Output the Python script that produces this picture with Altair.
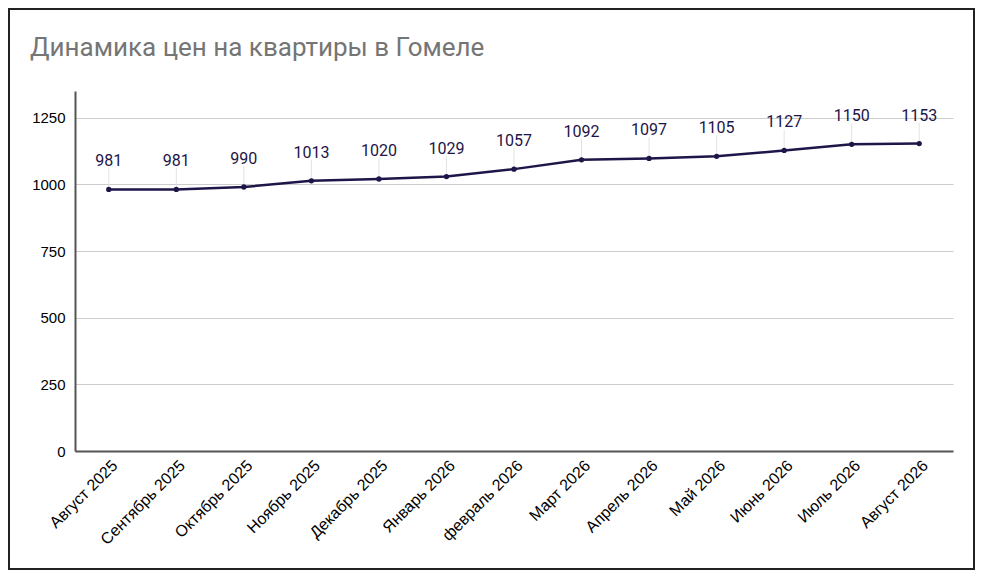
import altair as alt
import pandas as pd

months = [
    "Август 2025", "Сентябрь 2025", "Октябрь 2025", "Ноябрь 2025",
    "Декабрь 2025", "Январь 2026", "февраль 2026", "Март 2026",
    "Апрель 2026", "Май 2026", "Июнь 2026", "Июль 2026", "Август 2026",
]
prices = [981, 981, 990, 1013, 1020, 1029, 1057, 1092, 1097, 1105, 1127, 1150, 1153]
y_ticks = [0, 250, 500, 750, 1000, 1250]
title_text = ["Динамика цен на квартиры в Гомеле"]

df = pd.DataFrame({"month": months, "price": prices})

LINE = "#1e1548"
AXIS_FONT = "Arial, Liberation Sans"

x_enc = alt.X("month:N", sort=months, scale=alt.Scale(type="point", padding=0.5),
              axis=alt.Axis(title=None, labelAngle=-45, labelAlign="right",
                            labelBaseline="top", labelFont=AXIS_FONT,
                            labelFontSize=16, labelColor="#000", labelPadding=6,
                            ticks=False, domainColor="#555", domainWidth=2,
                            grid=False))
y_enc = alt.Y("price:Q", scale=alt.Scale(domain=[0, 1350], nice=False),
              axis=alt.Axis(title=None, values=y_ticks, format="d",
                            labelFont=AXIS_FONT, labelFontSize=15,
                            labelColor="#000", labelPadding=10,
                            ticks=False, domainColor="#555", domainWidth=2,
                            gridColor="#cccccc", gridWidth=1))

base = alt.Chart(df)

# leader lines from each point up to its value label
leaders = base.mark_rule(color="#e3e3e3", strokeWidth=1, y2Offset=-21).encode(
    x=x_enc, y=y_enc, y2=alt.Y2("price:Q"))
line = base.mark_line(color=LINE, strokeWidth=2.5).encode(x=x_enc, y=y_enc)
points = base.mark_circle(color=LINE, size=28, opacity=1).encode(x=x_enc, y=y_enc)
labels = base.mark_text(font="Roboto", fontSize=16, color=LINE, dy=-28,
                        baseline="middle").encode(x=x_enc, y=y_enc, text="price:Q")

# outer frame and title
deco = alt.Chart(pd.DataFrame({"t": title_text}))
frame = deco.mark_rect(fill=None, stroke="#222", strokeWidth=2).encode(
    x=alt.value(-66), x2=alt.value(899), y=alt.value(-82), y2=alt.value(478))
title = deco.mark_text(font="Roboto", fontSize=26, color="#757575",
                       align="left", baseline="alphabetic").encode(
    x=alt.value(-45), y=alt.value(-35), text="t:N")

chart = (leaders + line + points + labels + frame + title).properties(
    width=878, height=360,
    autosize=alt.AutoSizeParams(type="none"),
    padding={"left": 67, "top": 83, "right": 22, "bottom": 119},
).configure_view(strokeWidth=0)

chart.save("out.html", embed_options={"renderer": "svg", "actions": False})
